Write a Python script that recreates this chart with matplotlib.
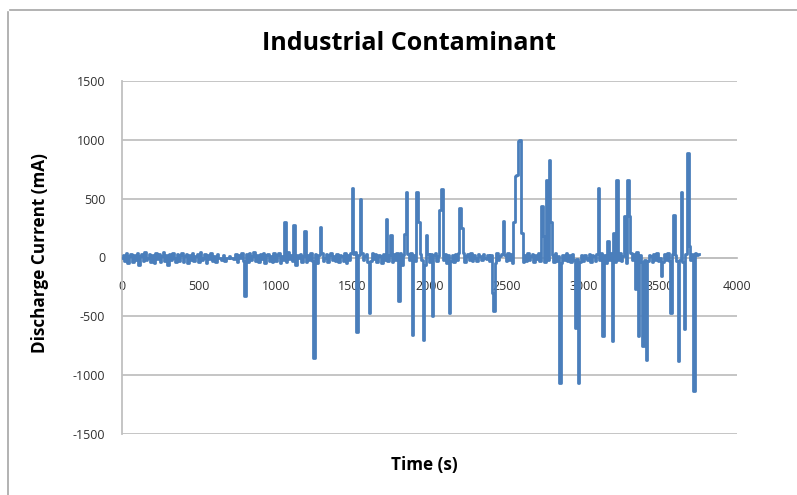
import numpy as np
import matplotlib
matplotlib.use("Agg")
import matplotlib.pyplot as plt
from matplotlib.lines import Line2D

plt.rcParams["axes.unicode_minus"] = False

# ---------------- data ----------------
sample_step = 10  # seconds between samples
baseline_current = [
    0, 20, -30, 40, -50, 10, 30, -40, 20, -20, 40, -60, 10, 30, -30, 50, -20, 0, 30, -40,
    20, -50, 40, -10, 30, -40, 10, 50, -30, 20, -60, 30, -20, 40, 0, -40, 30, -30, 20, 40,
    -40, 10, 30, -50, 20, -20, 40, -30, 10, 30, -40, 50, -20, 0, 30, -50, 20, -10, 40, -30,
    10, -40, 30, 0, 0, -20, 20, -30, 0, 0, 10, 0, 0, -10, 30, -40, 20, 0, 40, -30,
    -20, 30, -40, 40, -20, 10, 50, -30, 20, -40, 30, -10, 40, -50, 20, 30, -30, 10, -40, 40,
    -30, 20, 40, -50, 10, -20, 30, -40, 50, -10, 20, -30, 40, -60, 20, 0, 30, -40, 10, 30,
    -40, 20, -20, 40, -30, 10, 30, -50, 20, -10, 40, -30, 0, 30, -40, 20, 40, -20, 10, -30,
    30, -40, 20, 10, -30, 40, -50, 20, -20, 40, -60, 30, 50, -40, 20, -30, 40, -20, 10, 30,
    -40, 20, -30, 40, -10, 30, -40, 20, 10, -50, 30, -20, 40, -30, 20, 0, -40, 30, -20, 40,
    -30, 40, -60, 20, 50, -40, 30, -20, 40, -50, 20, -30, 50, -40, 30, -20, 40, -60, 20, 30,
    -40, 30, -50, 20, 40, -30, 10, -40, 50, -20, 30, -50, 20, 40, -30, 20, -40, 30, -20, 40,
    -30, 20, 40, -40, 10, 30, -20, 40, -30, 20, 0, -30, 30, 10, -20, 30, 0, -10, 20, -30,
    20, -40, 30, -50, 40, -20, 10, 30, -40, 20, -30, 40, -20, 30, -50, 20, 40, -30, 50, -20,
    30, -40, 20, -30, 40, -20, 10, 30, -40, 20, -10, 40, -30, 20, 50, -40, 30, -20, 40, -30,
    20, -40, 40, -30, 10, 30, -50, 20, -20, 40, -30, 20, -40, 30, -20, 40, -10, 30, -40, 20,
    -30, 20, 0, -20, 30, -40, 20, 10, -30, 30, 0, -20, 40, -30, 20, -50, 30, -20, 40, -30,
    20, -40, 30, -20, 40, -30, 10, 30, -50, 20, -30, 40, -20, 30, -40, 50, -30, 20, -40, 30,
    -20, 40, -30, 20, 10, -40, 30, -20, 40, -30, 0, 20, -40, 30, -20, 40, -30, 10, 30, -40,
    20, -30, 40, -20, 30, -40, 10, 30, -30, 40, -20, 30, -10, 40, 20, 30,
]
spike_times = [
    800, 1060, 1120, 1190, 1250, 1290,
    1500, 1530, 1550, 1610, 1720, 1750, 1800, 1840, 1850, 1890, 1920, 1930, 1960, 1980,
    2020, 2070, 2080, 2130, 2200, 2210, 2410, 2420, 2480, 2550, 2560, 2570, 2580, 2590, 2600,
    2730, 2740, 2760, 2780, 2790, 2850, 2950, 2970,
    3100, 3130, 3160, 3190, 3200, 3220, 3270, 3290, 3300, 3340, 3360, 3390, 3410,
    3510, 3570, 3590, 3620, 3640, 3660, 3680, 3690, 3720,
]
spike_values = [
    -330, 300, 280, 225, -850, 255,
    590, -635, 500, -470, 330, 195, -370, 200, 555, -655, 555, 300, -700, 195,
    -500, 400, 580, -470, 420, 250, -300, -455, 310, 300, 690, 700, 990, 1000, 210,
    435, 180, 660, 830, 300, -1065, -600, -1065,
    590, -670, 140, -710, 210, 660, 350, 660, 350, -270, -670, -755, -870,
    -160, -470, 365, -880, 555, -610, 885, 100, -1135,
]

title = "Industrial Contaminant"
xlabel = "Time (s)"
ylabel = "Discharge Current (mA)"
xticks = [0, 500, 1000, 1500, 2000, 2500, 3000, 3500, 4000]
yticks = [-1500, -1000, -500, 0, 500, 1000, 1500]

# ---------------- build series ----------------
time_s = np.arange(len(baseline_current)) * sample_step
current = np.array(baseline_current, dtype=float)
for t, v in zip(spike_times, spike_values):
    current[int(round(t / sample_step))] = v

# ---------------- figure ----------------
W, H = 797, 495
fig = plt.figure(figsize=(W / 100, H / 100), dpi=100)
fig.patch.set_facecolor("white")

# chart-area border (partially visible)
border_col = "#A6A6A6"
fig.add_artist(Line2D([8 / W, 8 / W], [0, 1 - 12 / H], color=border_col, lw=1.2))
fig.add_artist(Line2D([10 / W, 1.0], [1 - 10 / H, 1 - 10 / H], color=border_col, lw=1.2))

left, right, top, bottom = 122, 737, 81, 434
ax = fig.add_axes([left / W, 1 - bottom / H, (right - left) / W, (bottom - top) / H])

grid_col = "#C0C0C0"
ax.set_xlim(0, 4000)
ax.set_ylim(-1500, 1500)
ax.set_yticks(yticks)
ax.set_xticks(xticks)
ax.yaxis.grid(True, color=grid_col, lw=1.3)
ax.set_axisbelow(True)

ax.plot(time_s, current, color="#4A7EBB", lw=2.0, drawstyle="steps-mid", zorder=3)

for s in ["top", "right"]:
    ax.spines[s].set_visible(False)
ax.spines["left"].set_color(grid_col)
ax.spines["left"].set_linewidth(1.3)
ax.spines["bottom"].set_position(("data", 0))
ax.spines["bottom"].set_color(grid_col)
ax.spines["bottom"].set_linewidth(1.3)
ax.spines["bottom"].set_zorder(1)

tick_font = "Open Sans"
ax.tick_params(axis="y", length=0, pad=12, labelsize=9, labelcolor="#303030")
ax.tick_params(axis="x", length=0, pad=16, labelsize=9, labelcolor="#303030")
for lab in ax.get_xticklabels() + ax.get_yticklabels():
    lab.set_fontfamily(tick_font)

fig.text(409 / W, 1 - 43 / H, title, ha="center", va="center",
         fontsize=18, fontweight="bold", family="Open Sans", color="black")
fig.text(424 / W, 1 - 465 / H, xlabel, ha="center", va="center",
         fontsize=12.3, fontweight="bold", family="Open Sans", color="black")
fig.text(40 / W, 1 - 253 / H, ylabel, ha="center", va="center", rotation=90,
         fontsize=12.3, fontweight="bold", family="Open Sans", color="black")

fig.savefig("out.png", dpi=100, facecolor="white")
